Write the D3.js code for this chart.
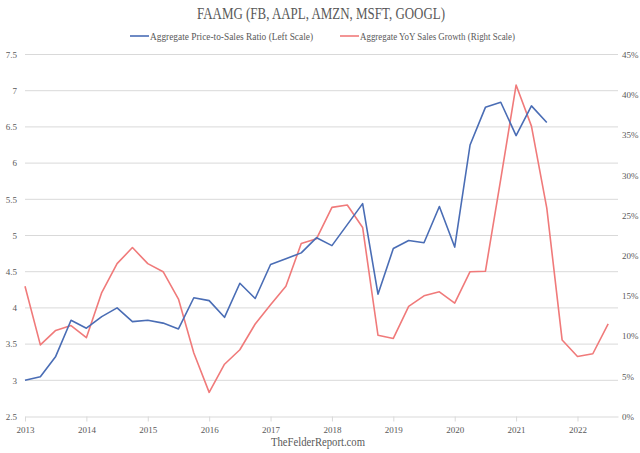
<!DOCTYPE html>
<html><head><meta charset="utf-8">
<script src="https://cdn.jsdelivr.net/npm/d3@7"></script>
<style>body{margin:0;background:#fff}svg{display:block}</style>
</head><body><div id="chart"></div>
<script>
const startYear = 2013;
const quarterStep = 0.25;
const priceToSales = [3.00,3.05,3.33,3.83,3.72,3.88,4.00,3.81,3.83,3.79,3.71,4.14,4.10,3.87,4.34,4.13,4.60,4.68,4.76,4.97,4.86,5.15,5.44,4.19,4.82,4.93,4.90,5.40,4.84,6.25,6.77,6.84,6.38,6.79,6.56];
const salesGrowth = [16.2,8.9,10.7,11.3,9.8,15.4,19.0,21.0,19.0,18.0,14.6,7.9,3.0,6.5,8.3,11.5,13.9,16.2,21.5,22.1,26.0,26.3,23.5,10.1,9.7,13.7,15.0,15.5,14.1,18.0,18.05,29.5,41.2,36.1,25.9,9.5,7.45,7.8,11.5];
const yearTicks = [2013,2014,2015,2016,2017,2018,2019,2020,2021,2022];
const leftTicks = [2.5,3,3.5,4,4.5,5,5.5,6,6.5,7,7.5];
const rightTicks = [0,5,10,15,20,25,30,35,40,45];
const titleText = "FAAMG (FB, AAPL, AMZN, MSFT, GOOGL)";
const legendLabels = ["Aggregate Price-to-Sales Ratio (Left Scale)","Aggregate YoY Sales Growth (Right Scale)"];
const sourceText = "TheFelderReport.com";

const W = 640, H = 453;
const blue = "#4a6db5", red = "#f07a7a", grid = "#d9d9d9", txt = "#595959";
const serif = "'Liberation Serif','DejaVu Serif',serif";
const svg = d3.select("#chart").append("svg").attr("width", W).attr("height", H);

const x = d3.scaleLinear().domain([2013, 2022.66]).range([25, 618]);
const yL = d3.scaleLinear().domain([2.5, 7.5]).range([416.5, 54.5]);
const yR = d3.scaleLinear().domain([0, 45]).range([416.5, 54.5]);

// gridlines
svg.append("g").selectAll("line").data(leftTicks.slice(1)).join("line")
  .attr("x1", x.range()[0]).attr("x2", x.range()[1])
  .attr("y1", d => yL(d)).attr("y2", d => yL(d))
  .attr("stroke", grid).attr("stroke-width", 1);

// x axis
const xAxis = svg.append("g").attr("transform", `translate(0,${yL(2.5)})`)
  .call(d3.axisBottom(x).tickValues(yearTicks).tickFormat(d3.format("d")).tickSize(5).tickSizeOuter(0));
xAxis.select(".domain").attr("stroke", grid);
xAxis.selectAll(".tick line").attr("stroke", grid);
xAxis.selectAll("text").attr("fill", txt).attr("font-family", serif).attr("font-size", 9).attr("dy", "0.9em");

// left axis
const lAxis = svg.append("g").attr("transform", "translate(25,0)")
  .call(d3.axisLeft(yL).tickValues(leftTicks).tickFormat(d => d).tickSize(0).tickPadding(8));
lAxis.select(".domain").remove();
lAxis.selectAll("text").attr("fill", txt).attr("font-family", serif).attr("font-size", 9);

// right axis
const rAxis = svg.append("g").attr("transform", "translate(618,0)")
  .call(d3.axisRight(yR).tickValues(rightTicks).tickFormat(d => d + "%").tickSize(0).tickPadding(4));
rAxis.select(".domain").remove();
rAxis.selectAll("text").attr("fill", txt).attr("font-family", serif).attr("font-size", 9);

// lines
const lineL = d3.line().x((d, i) => x(startYear + i * quarterStep)).y(d => yL(d));
const lineR = d3.line().x((d, i) => x(startYear + i * quarterStep)).y(d => yR(d));
svg.append("path").datum(salesGrowth).attr("d", lineR).attr("fill", "none").attr("stroke", red).attr("stroke-width", 1.6).attr("stroke-linejoin", "round");
svg.append("path").datum(priceToSales).attr("d", lineL).attr("fill", "none").attr("stroke", blue).attr("stroke-width", 1.6).attr("stroke-linejoin", "round");

// title
svg.append("text").attr("x", 321).attr("y", 19).attr("text-anchor", "middle")
  .attr("font-family", serif).attr("font-size", 16).attr("fill", txt)
  .attr("textLength", 248).attr("lengthAdjust", "spacingAndGlyphs").text(titleText);

// legend
const legendItems = [{label: legendLabels[0], color: blue, x: 130, len: 163}, {label: legendLabels[1], color: red, x: 340, len: 155}];
const lg = svg.append("g").selectAll("g").data(legendItems).join("g").attr("transform", d => `translate(${d.x},36)`);
lg.append("line").attr("x1", 0).attr("x2", 19).attr("stroke", d => d.color).attr("stroke-width", 1.6);
lg.append("text").attr("x", 20).attr("dy", "0.35em").attr("font-family", serif).attr("font-size", 10.5).attr("fill", txt)
  .attr("textLength", d => d.len).attr("lengthAdjust", "spacingAndGlyphs").text(d => d.label);

// source
svg.append("text").attr("x", 318).attr("y", 446).attr("text-anchor", "middle")
  .attr("font-family", serif).attr("font-size", 12).attr("fill", txt)
  .attr("textLength", 94).attr("lengthAdjust", "spacingAndGlyphs").text(sourceText);
</script></body></html>
